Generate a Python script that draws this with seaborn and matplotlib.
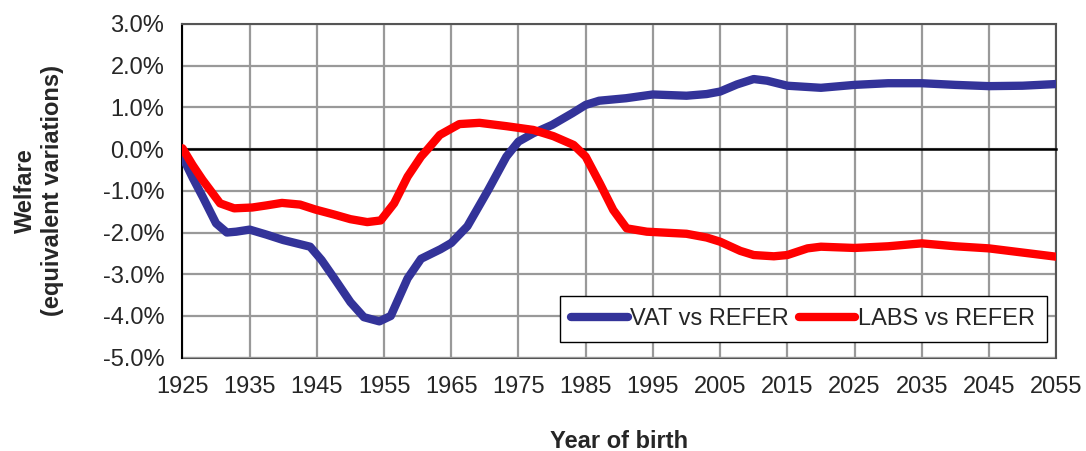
import numpy as np
import pandas as pd
import seaborn as sns
import matplotlib.pyplot as plt
from matplotlib.ticker import FuncFormatter

# welfare change by year of birth (in %)
vat_years = [1925, 1926.5, 1928, 1930, 1931.6, 1933, 1935, 1937.5, 1940, 1944, 1945.7, 1947.6,
             1950, 1952, 1954.3, 1956, 1958.5, 1960.5, 1963.4, 1965, 1967.4, 1970.5, 1973.2,
             1975, 1977.2, 1980, 1983, 1985, 1987, 1991, 1995, 2000, 2003, 2005, 2007.5, 2010,
             2012, 2015, 2020, 2025, 2030, 2035, 2040, 2045, 2050, 2055]
vat_vals = [-0.18, -0.68, -1.14, -1.78, -2.0, -1.98, -1.93, -2.05, -2.18, -2.34, -2.66, -3.1,
            -3.67, -4.03, -4.13, -4.0, -3.1, -2.63, -2.4, -2.25, -1.85, -0.98, -0.18,
            0.18, 0.38, 0.58, 0.86, 1.06, 1.16, 1.22, 1.31, 1.28, 1.32, 1.38, 1.55, 1.68,
            1.64, 1.52, 1.47, 1.54, 1.58, 1.58, 1.54, 1.51, 1.52, 1.56]

labs_years = [1925, 1926.5, 1928, 1930.6, 1932.7, 1935.4, 1937.5, 1939.8, 1942.5, 1944.8,
              1947.6, 1950, 1952.5, 1954.5, 1956.5, 1958.5, 1960.5, 1961.5, 1963.3, 1966.2,
              1969.2, 1973.2, 1977.2, 1980.2, 1983.2, 1985, 1987.1, 1989.1, 1991.1, 1994.1,
              2000, 2003, 2005, 2008, 2010, 2013, 2015, 2018, 2020, 2025, 2030, 2035, 2040,
              2045, 2050, 2055]
labs_vals = [0.02, -0.38, -0.74, -1.3, -1.42, -1.4, -1.35, -1.29, -1.33, -1.45,
             -1.57, -1.68, -1.75, -1.71, -1.3, -0.66, -0.18, 0.0, 0.34, 0.6,
             0.63, 0.55, 0.46, 0.31, 0.1, -0.18, -0.82, -1.46, -1.9, -1.98,
             -2.03, -2.12, -2.22, -2.44, -2.54, -2.57, -2.54, -2.38, -2.34, -2.37, -2.33, -2.26, -2.33,
             -2.38, -2.48, -2.58]

series_names = ["VAT vs REFER", "LABS vs REFER"]
x_ticks = list(range(1925, 2056, 10))
y_ticks = list(range(-5, 4))

df = pd.concat([
    pd.DataFrame({"year": vat_years, "welfare": vat_vals, "series": series_names[0]}),
    pd.DataFrame({"year": labs_years, "welfare": labs_vals, "series": series_names[1]}),
])

sns.set_style("white")
plt.rcParams["font.family"] = ["Liberation Sans", "DejaVu Sans"]

fig = plt.figure(figsize=(10.86, 4.51), dpi=100)
ax = fig.add_axes([0.168, 0.207, 0.8045, 0.7398])

sns.lineplot(data=df, x="year", y="welfare", hue="series",
             palette={"VAT vs REFER": "#333399", "LABS vs REFER": "#ff0000"},
             linewidth=6, ax=ax, zorder=3, solid_capstyle="round", solid_joinstyle="round")

ax.set_xlim(1925, 2055)
ax.set_ylim(-5, 3)
ax.set_xticks(x_ticks)
ax.set_yticks(y_ticks)
ax.yaxis.set_major_formatter(FuncFormatter(lambda v, p: f"{v:.1f}%"))

ax.set_axisbelow(True)
ax.grid(True, color="#999999", linewidth=1.6)

# horizontal axis crosses at zero, labels stay at the bottom
ax.spines["bottom"].set_position(("data", 0))
ax.spines["bottom"].set_color("black")
ax.spines["bottom"].set_linewidth(1.8)
ax.spines["left"].set_color("black")
ax.spines["left"].set_linewidth(1.5)
for s in ["top", "right"]:
    ax.spines[s].set_color("#555555")
    ax.spines[s].set_linewidth(1.5)
ax.tick_params(axis="x", direction="out", length=5, width=1.5, color="black", labelbottom=False)
ax.tick_params(axis="y", direction="out", length=7, width=1.2, color="black", labelsize=17, pad=6)

sec = ax.secondary_xaxis(0.0, functions=(lambda x: x, lambda x: x))
sec.set_xticks(x_ticks)
sec.tick_params(length=0, labelsize=17, pad=13)
sec.spines["bottom"].set_color("#555555")
sec.spines["bottom"].set_linewidth(1.5)
sec.set_xlabel("Year of birth", fontsize=17, fontweight="bold", labelpad=23)

ax.set_xlabel("")
ax.set_ylabel("Welfare\n(equivalent variations)", fontsize=17, fontweight="bold", labelpad=28)

leg = ax.legend(loc="lower right", bbox_to_anchor=(0.989, 0.047), ncol=2, fontsize=17,
                frameon=True, fancybox=False, edgecolor="black", framealpha=1,
                handlelength=2.4, handletextpad=0.1, columnspacing=0.4,
                borderpad=0.5, borderaxespad=0)
leg.get_frame().set_linewidth(1.0)

fig.savefig("out.png", dpi=100)
